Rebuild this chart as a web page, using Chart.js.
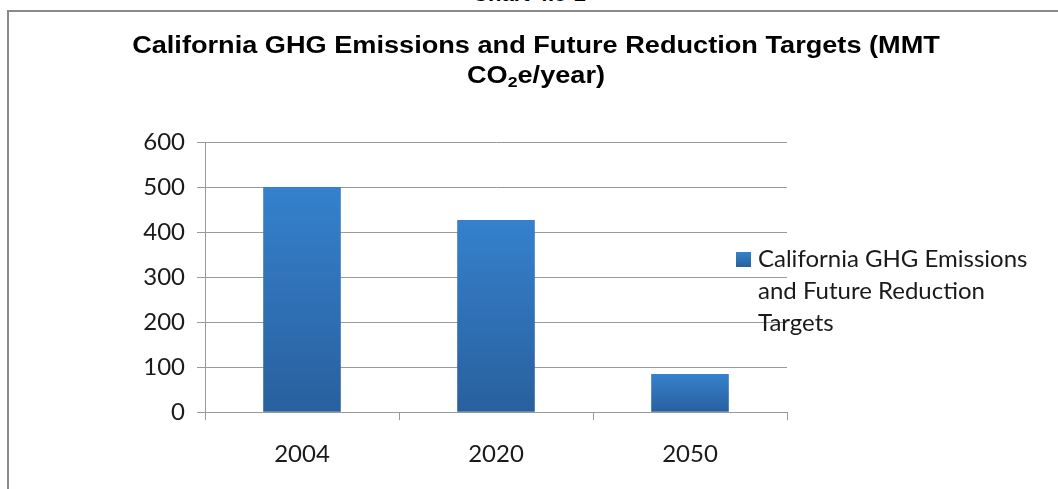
<!DOCTYPE html>
<html>
<head>
<meta charset="utf-8">
<script src="https://cdn.jsdelivr.net/npm/chart.js@4"></script>
<style>
  body { margin: 0; background: #fff; }
  #wrap { position: relative; width: 1058px; height: 489px; overflow: hidden; }
  #caption { position: absolute; left: 0; width: 1058px; top: -19px; text-align: center;
    font: bold 22px "Liberation Sans", Arial, sans-serif; color: #000; }
  #frame { position: absolute; left: 7px; top: 10px; width: 1100px; height: 600px;
    border-left: 2px solid #8a8a8a; border-top: 2px solid #8a8a8a; }
  canvas { position: absolute; left: 0; top: 0; }
</style>
</head>
<body>
<div id="wrap">
  <div id="caption">Chart 4.8-1</div>
  <div id="frame"></div>
  <canvas id="chart" width="1058" height="489"></canvas>
</div>
<script>
const years = ["2004", "2020", "2050"];
const emissions = [500, 427, 85];
const seriesName = ["California GHG Emissions", "and Future Reduction", "Targets"];
const titleLine1 = "California GHG Emissions and Future Reduction Targets (MMT";
const titleLine2 = ["CO", "2", "e/year)"];

const tickFont = { family: "Lato, 'Open Sans', sans-serif", size: 24 };
const titleFamily = "'Liberation Sans', Arial, sans-serif";

const barFill = (ctx, top, bottom) => {
  let g = ctx.createLinearGradient(0, top, 0, bottom);
  g.addColorStop(0, "#3581cd");
  g.addColorStop(1, "#29609e");
  return g;
};

// title drawn by hand: stretched bold face and a real subscript 2
const titlePlugin = {
  id: "stretchTitle",
  afterDraw(chart) {
    const ctx = chart.ctx;
    const cx = 536;
    const sx = 1.18;
    ctx.save();
    ctx.fillStyle = "#000";
    ctx.textBaseline = "middle";
    ctx.scale(sx, 1);
    ctx.font = "bold 23px " + titleFamily;
    ctx.textAlign = "center";
    ctx.fillText(titleLine1, cx / sx, 47);

    ctx.textAlign = "left";
    const big = "bold 23px " + titleFamily;
    const small = "bold 15px " + titleFamily;
    ctx.font = big;
    const w0 = ctx.measureText(titleLine2[0]).width;
    const w2 = ctx.measureText(titleLine2[2]).width;
    ctx.font = small;
    const w1 = ctx.measureText(titleLine2[1]).width;
    let x = cx / sx - (w0 + w1 + w2) / 2;
    ctx.font = big;
    ctx.fillText(titleLine2[0], x, 77);
    x += w0;
    ctx.font = small;
    ctx.fillText(titleLine2[1], x, 83);
    x += w1;
    ctx.font = big;
    ctx.fillText(titleLine2[2], x, 77);
    ctx.restore();
  },
};

const legendPlugin = {
  id: "sideLegend",
  afterDraw(chart) {
    const ctx = chart.ctx;
    const area = chart.chartArea;
    const x = area.right - 51;
    const y = 259;
    ctx.save();
    ctx.fillStyle = barFill(ctx, y - 7, y + 8);
    ctx.fillRect(x, y - 7, 15, 15);
    ctx.fillStyle = "#1a1a1a";
    ctx.font = tickFont.size + "px " + tickFont.family;
    ctx.textBaseline = "middle";
    seriesName.forEach((line, i) => ctx.fillText(line, x + 22, y + i * 32));
    ctx.restore();
  },
};

const ctx = document.getElementById("chart").getContext("2d");
new Chart(ctx, {
  type: "bar",
  data: {
    labels: years,
    datasets: [
      {
        label: seriesName.join(" "),
        data: emissions,
        backgroundColor: (c) => {
          const chart = c.chart;
          if (!chart.chartArea) return "#3070b8";
          const y = chart.scales.y;
          const v = c.raw || 0;
          return barFill(chart.ctx, y.getPixelForValue(v), y.getPixelForValue(0));
        },
        borderWidth: 0,
        barPercentage: 0.4,
        categoryPercentage: 1,
      },
    ],
  },
  options: {
    responsive: false,
    animation: false,
    layout: { padding: { left: 0, right: 271, top: 142, bottom: 0 } },
    scales: {
      x: {
        grid: { offset: true, drawOnChartArea: false, drawTicks: true, tickLength: 8, color: "#9a9a9a" },
        border: { color: "#9a9a9a" },
        ticks: { font: tickFont, color: "#1a1a1a", padding: 20 },
      },
      y: {
        min: 0,
        max: 600,
        afterFit: (scale) => { scale.width = 205; },
        grid: { color: "#9a9a9a", tickLength: 8 },
        border: { color: "#9a9a9a" },
        ticks: { stepSize: 100, font: tickFont, color: "#1a1a1a", padding: 12 },
      },
    },
    plugins: {
      legend: { display: false },
      tooltip: { enabled: false },
      title: { display: false },
    },
  },
  plugins: [titlePlugin, legendPlugin],
});
</script>
</body>
</html>
